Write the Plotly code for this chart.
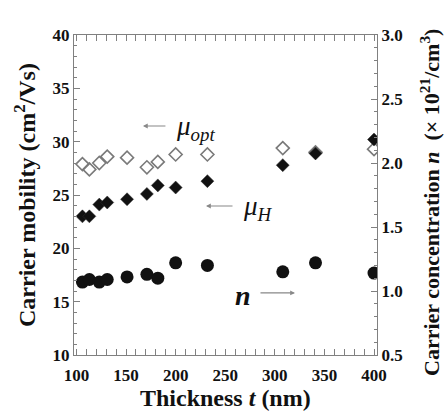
import plotly.graph_objects as go

# Data
thickness_opt = [106, 113, 123, 131, 151, 171, 182, 200, 232, 308, 341, 400]
mu_opt = [27.9, 27.4, 28.0, 28.6, 28.5, 27.6, 28.1, 28.8, 28.8, 29.4, 29.0, 29.3]

thickness_h = [106, 113, 123, 131, 151, 171, 182, 200, 232, 308, 341, 400]
mu_h = [23.0, 23.0, 24.1, 24.3, 24.6, 25.1, 25.9, 25.7, 26.3, 27.8, 28.9, 30.2]

thickness_n = [106, 113, 123, 131, 151, 171, 182, 200, 232, 308, 341, 400]
n_conc = [1.07, 1.09, 1.07, 1.09, 1.11, 1.13, 1.10, 1.22, 1.20, 1.15, 1.22, 1.14]

x_ticks = [100, 150, 200, 250, 300, 350, 400]
y_ticks = [10, 15, 20, 25, 30, 35, 40]
y2_ticks = [0.5, 1.0, 1.5, 2.0, 2.5, 3.0]

FONT = "Liberation Serif"
AX = "#808080"

fig = go.Figure()
fig.add_trace(go.Scatter(
    x=thickness_opt, y=mu_opt, mode="markers", yaxis="y",
    marker=dict(symbol="diamond-open", size=10, color="#7a7a7a", line=dict(width=1.6, color="#7a7a7a")),
    showlegend=False))
fig.add_trace(go.Scatter(
    x=thickness_h, y=mu_h, mode="markers", yaxis="y",
    marker=dict(symbol="diamond", size=10, color="#111111", line=dict(width=0.5, color="#333")),
    showlegend=False))
fig.add_trace(go.Scatter(
    x=thickness_n, y=n_conc, mode="markers", yaxis="y2",
    marker=dict(symbol="circle", size=13, color="#111111", line=dict(width=0)),
    showlegend=False))

tickfont = dict(family=FONT, size=17, color="#111", weight="bold")

fig.update_layout(
    width=444, height=412,
    margin=dict(l=74, r=67, t=35, b=57),
    paper_bgcolor="white", plot_bgcolor="white",
    xaxis=dict(range=[97.5, 403], tickvals=x_ticks, ticks="inside", ticklen=6,
               tickcolor=AX, showline=True, linecolor=AX, linewidth=1.2,
               mirror="allticks", showgrid=False, zeroline=False, tickfont=tickfont,
               ticklabelstandoff=4,
               minor=dict(dtick=10, tick0=100, ticks="inside", ticklen=3, tickcolor=AX)),
    yaxis=dict(range=[10, 40], tickvals=y_ticks, ticks="inside", ticklen=6,
               tickcolor=AX, showline=True, linecolor=AX, linewidth=1.2,
               showgrid=False, zeroline=False, tickfont=tickfont,
               minor=dict(dtick=1, tick0=10, ticks="inside", ticklen=3, tickcolor=AX)),
    yaxis2=dict(range=[0.5, 3.0], tickvals=y2_ticks, tickformat=".1f", overlaying="y", side="right",
                ticks="inside", ticklen=6, tickcolor=AX, showline=True, linecolor=AX, linewidth=1.2,
                showgrid=False, zeroline=False, tickfont=tickfont,
                minor=dict(dtick=0.1, tick0=0.5, ticks="inside", ticklen=3, tickcolor=AX)),
)

anns = [
    dict(text="Carrier mobility (cm<sup>2</sup>/Vs)", xref="paper", yref="paper", x=0, y=0.5,
         xshift=-49, textangle=-90, showarrow=False,
         font=dict(family=FONT, size=24, color="#111", weight="bold"), xanchor="center", yanchor="middle"),
    dict(text="Carrier concentration <i>n</i>  (× 10<sup>21</sup>/cm<sup>3</sup>)", xref="paper", yref="paper",
         x=1, y=0.5, xshift=53, yshift=-8, textangle=-90, showarrow=False,
         font=dict(family=FONT, size=22, color="#111", weight="bold"), xanchor="center", yanchor="middle"),
    dict(text="Thickness <i>t</i> (nm)", xref="paper", yref="paper", x=0.5, y=0, yshift=-43,
         showarrow=False, font=dict(family=FONT, size=24, color="#111", weight="bold"),
         xanchor="center", yanchor="middle"),
    # arrows
    dict(x=167, y=31.47, xref="x", yref="y", ax=24, ay=0, axref="pixel", ayref="pixel",
         showarrow=True, arrowhead=2, arrowsize=0.8, arrowwidth=1.2, arrowcolor="#888", text=""),
    dict(text="<i>μ</i><sub><i>opt</i></sub>", x=198, y=31.3, xref="x", yref="y", showarrow=False,
         xanchor="left", yanchor="middle", font=dict(family=FONT, size=27, color="#111")),
    dict(x=230.6, y=23.97, xref="x", yref="y", ax=28, ay=0, axref="pixel", ayref="pixel",
         showarrow=True, arrowhead=2, arrowsize=0.8, arrowwidth=1.2, arrowcolor="#888", text=""),
    dict(text="<i>μ</i><sub><i>H</i></sub>", x=266, y=23.8, xref="x", yref="y", showarrow=False,
         xanchor="left", yanchor="middle", font=dict(family=FONT, size=27, color="#111")),
    dict(x=320.3, y=15.82, xref="x", yref="y", ax=-36, ay=0, axref="pixel", ayref="pixel",
         showarrow=True, arrowhead=2, arrowsize=0.8, arrowwidth=1.2, arrowcolor="#888", text=""),
    dict(text="<i>n</i>", x=267.9, y=15.6, xref="x", yref="y", showarrow=False,
         xanchor="center", yanchor="middle", font=dict(family=FONT, size=28, color="#111", weight="bold")),
]
fig.update_layout(annotations=anns)

fig.write_html("out.html")
